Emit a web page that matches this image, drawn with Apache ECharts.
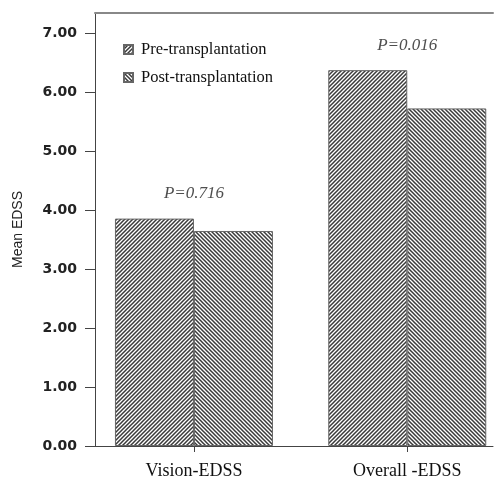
<!DOCTYPE html>
<html>
<head>
<meta charset="utf-8">
<script src="https://cdn.jsdelivr.net/npm/echarts@6/dist/echarts.min.js"></script>
<style>
html,body{margin:0;padding:0;background:#fff;}
#chart{width:494px;height:480px;}
</style>
</head>
<body>
<div id="chart"></div>
<script>
const categories = ['Vision-EDSS', 'Overall -EDSS'];
const preValues = [3.86, 6.38];
const postValues = [3.65, 5.73];
const pLabels = ['P=0.716', 'P=0.016'];
const yTicks = [0, 1, 2, 3, 4, 5, 6, 7];
const seriesNames = ['Pre-transplantation', 'Post-transplantation'];

function makeHatch(forward) {
  const s = 4;
  const c = document.createElement('canvas');
  c.width = s; c.height = s;
  const ctx = c.getContext('2d');
  ctx.fillStyle = '#ffffff';
  ctx.fillRect(0, 0, s, s);
  ctx.strokeStyle = '#3a3a3a';
  ctx.lineWidth = 1.5;
  ctx.beginPath();
  if (forward) {
    for (let k = -1; k <= 1; k++) {
      ctx.moveTo(k * s - 1, s + 1);
      ctx.lineTo(k * s + s + 1, -1);
    }
  } else {
    for (let k = -1; k <= 1; k++) {
      ctx.moveTo(k * s - 1, -1);
      ctx.lineTo(k * s + s + 1, s + 1);
    }
  }
  ctx.stroke();
  return { image: c, repeat: 'repeat' };
}

const idx = categories.map((c, i) => i);
const groupMax = idx.map(i => Math.max(preValues[i], postValues[i]));

const chart = echarts.init(document.getElementById('chart'), null, { renderer: 'canvas' });
chart.setOption({
  animation: false,
  backgroundColor: '#ffffff',
  grid: { left: 95, top: 13, right: 1, bottom: 33, containLabel: false },
  legend: {
    orient: 'vertical',
    left: 118,
    top: 36,
    itemWidth: 9,
    itemHeight: 9,
    itemGap: 11,
    icon: 'rect',
    data: seriesNames,
    textStyle: { fontFamily: '"Liberation Serif", "Times New Roman", serif', fontSize: 16.5, color: '#111', padding: [0, 0, 0, 3] }
  },
  xAxis: [{
    type: 'value',
    min: -0.464,
    max: 1.402,
    splitLine: { show: false },
    axisLine: { show: true, onZero: false, lineStyle: { color: '#444', width: 1 } },
    axisTick: { show: true, length: 6, customValues: idx, lineStyle: { color: '#444' } },
    axisLabel: {
      customValues: idx,
      margin: 16,
      formatter: v => categories[Math.round(v)],
      fontFamily: '"Liberation Serif", "Times New Roman", serif',
      fontSize: 18,
      color: '#111'
    }
  }, {
    type: 'value',
    position: 'top',
    min: -0.464,
    max: 1.402,
    splitLine: { show: false },
    axisLine: { show: true, onZero: false, lineStyle: { color: '#888', width: 2 } },
    axisTick: { show: false },
    axisLabel: { show: false }
  }],
  yAxis: {
    type: 'value',
    min: 0,
    max: 7.35,
    name: 'Mean EDSS',
    nameLocation: 'middle',
    nameGap: 70,
    nameTextStyle: { fontFamily: '"Liberation Sans", Arial, sans-serif', fontSize: 14, color: '#222' },
    splitLine: { show: false },
    axisLine: { show: true, onZero: false, lineStyle: { color: '#444', width: 1 } },
    axisTick: { show: true, length: 10, customValues: yTicks, lineStyle: { color: '#444' } },
    axisLabel: {
      customValues: yTicks,
      margin: 18,
      formatter: v => v.toFixed(2),
      fontFamily: '"DejaVu Sans", sans-serif',
      fontWeight: 'bold',
      fontSize: 14,
      color: '#222'
    }
  },
  series: [{
    name: seriesNames[0],
    type: 'bar',
    xAxisIndex: 0,
    barWidth: 79,
    barGap: '0%',
    itemStyle: { color: makeHatch(true), borderColor: '#666', borderWidth: 1 },
    data: idx.map(i => [i, preValues[i]])
  }, {
    name: seriesNames[1],
    type: 'bar',
    xAxisIndex: 0,
    barWidth: 79,
    barGap: '0%',
    itemStyle: { color: makeHatch(false), borderColor: '#666', borderWidth: 1 },
    data: idx.map(i => [i, postValues[i]])
  }, {
    name: 'p',
    type: 'scatter',
    xAxisIndex: 0,
    symbolSize: 1,
    itemStyle: { color: 'rgba(0,0,0,0)' },
    silent: true,
    label: {
      show: true,
      position: 'top',
      distance: 16,
      formatter: p => pLabels[p.dataIndex],
      fontFamily: '"Liberation Serif", "Times New Roman", serif',
      fontStyle: 'italic',
      fontSize: 17,
      color: '#222'
    },
    data: idx.map(i => [i, groupMax[i]])
  }]
});
</script>
</body>
</html>
